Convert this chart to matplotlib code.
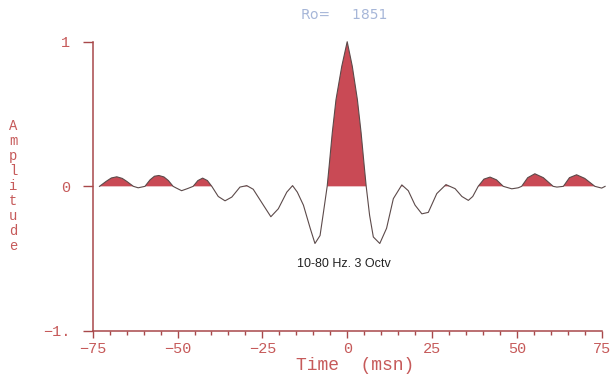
import numpy as np
import matplotlib
matplotlib.use("Agg")
import matplotlib.pyplot as plt
from matplotlib.ticker import MultipleLocator

# ── wavelet samples (time in ms, amplitude) ───────────────────────────────
t_ms = [-73.0, -71.0, -69.5, -67.9, -66.3, -65.0, -63.0, -61.6, -59.6, -58.1,
        -56.8, -55.5, -54.0, -52.7, -51.3, -50.5, -48.8, -47.0, -45.4, -44.0,
        -42.6, -41.2, -39.9, -38.0, -36.0, -34.0, -31.6, -29.6, -27.7, -24.7,
        -22.5, -20.3, -17.8, -16.1, -14.7, -12.9, -10.9, -9.5, -8.0, -7.0,
        -5.9, -5.3, -4.4, -3.3, -1.6, 0.0, 1.5, 3.0, 4.1, 5.0,
        5.6, 6.6, 7.7, 9.6, 11.6, 13.6, 16.1, 18.0, 20.0, 22.0,
        23.9, 26.4, 29.1, 31.8, 33.8, 35.7, 37.0, 38.6, 40.3, 42.1,
        44.0, 46.0, 48.5, 50.4, 51.4, 53.2, 55.3, 57.8, 60.7, 61.8,
        63.7, 65.5, 67.6, 70.0, 73.0, 75.0, 76.0]
amp = [0.0, 0.035, 0.058, 0.066, 0.055, 0.035, 0.0, -0.01, 0.0, 0.045,
       0.07, 0.075, 0.065, 0.04, 0.0, -0.01, -0.03, -0.015, 0.0, 0.04,
       0.057, 0.04, 0.0, -0.07, -0.10, -0.074, -0.005, 0.005, -0.02, -0.13,
       -0.21, -0.155, -0.04, 0.005, -0.04, -0.13, -0.29, -0.395, -0.34, -0.18,
       0.0, 0.145, 0.37, 0.60, 0.83, 1.0, 0.83, 0.60, 0.37, 0.145,
       0.0, -0.20, -0.35, -0.395, -0.29, -0.085, 0.01, -0.03, -0.13, -0.19,
       -0.18, -0.05, 0.012, -0.016, -0.07, -0.097, -0.07, 0.0, 0.05, 0.064,
       0.045, 0.0, -0.017, -0.01, 0.0, 0.06, 0.087, 0.06, 0.0, -0.005,
       0.0, 0.06, 0.08, 0.055, 0.0, -0.012, 0.0]

x_major = [-75, -50, -25, 0, 25, 50, 75]
x_labels = ["\u221275", "\u221250", "\u221225", "0", "25", "50", "75"]
y_major = [-1, 0, 1]
y_labels = ["\u22121.", "0", "1"]

title_txt = "Ro=     1851"
note_txt = "10-80 Hz. 3 Octv"

AXC = "#a8484a"      # axis / tick colour
TXC = "#c65a5a"      # label colour
FILL = "#c94a55"
MONO = "Liberation Mono"

# ── figure ─────────────────────────────────────────────────────────────────
W, H = 615, 378
fig = plt.figure(figsize=(W / 100, H / 100), dpi=100)
fig.patch.set_facecolor("white")
ax = fig.add_axes([92.7 / W, 1 - 331 / H, (601.7 - 92.7) / W, (331 - 41.7) / H])

t = np.array(t_ms)
a = np.array(amp)
ax.fill_between(t, a, 0, where=a > 0, interpolate=True, color=FILL, lw=0)
ax.plot(t, a, color="#5c4a4a", lw=0.8, clip_on=False)

ax.set_xlim(-75, 75)
ax.set_ylim(-1, 1)

for s in ("top", "right"):
    ax.spines[s].set_visible(False)
for s in ("left", "bottom"):
    ax.spines[s].set_color(AXC)
    ax.spines[s].set_linewidth(1.1)

ax.set_xticks(x_major)
ax.set_xticklabels(x_labels, family=MONO, fontsize=11, color=TXC)
ax.xaxis.set_minor_locator(MultipleLocator(5))
ax.tick_params(axis="x", which="major", direction="out", length=5,
               width=1, color=AXC, pad=3)
ax.tick_params(axis="x", which="minor", direction="out", length=3,
               width=1, color=AXC)

ax.set_yticks(y_major)
ax.set_yticklabels(y_labels, family=MONO, fontsize=11, color=TXC)
ax.tick_params(axis="y", which="major", direction="out", length=7,
               width=1, color=AXC, pad=9)

# stacked y label
fig.text(13 / W, 1 - 186 / H, "A\nm\np\nl\ni\nt\nu\nd\ne", family=MONO,
         fontsize=10, color=TXC, ha="center", va="center", linespacing=1.08)
# x label
fig.text(355 / W, 1 - 365 / H, "Time  (msn)", family=MONO, fontsize=13,
         color=TXC, ha="center", va="center")

# title
fig.text(344 / W, 1 - 15 / H, title_txt, family="DejaVu Sans", fontsize=10,
         color="#a6b6d8", ha="center", va="center")

# annotation
ax.text(-1.0, -0.535, note_txt, family="Liberation Sans", fontsize=9,
        color="#222222", ha="center", va="center")

fig.savefig("out.png", dpi=100, facecolor="white")
